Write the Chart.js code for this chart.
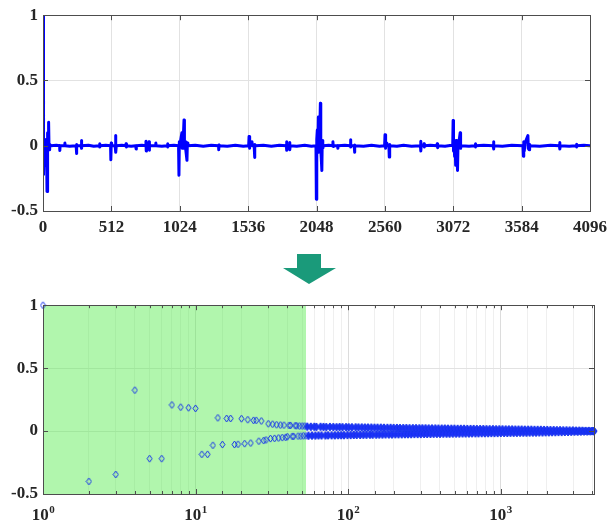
<!DOCTYPE html>
<html>
<head>
<meta charset="utf-8">
<script src="https://cdn.jsdelivr.net/npm/chart.js@4/dist/chart.umd.min.js"></script>
<style>
  html, body { margin: 0; padding: 0; background: #fff; }
  #page { position: relative; width: 613px; height: 522px; overflow: hidden; }
  #signalChart { position: absolute; left: 0; top: 0; }
  #rankChart { position: absolute; left: 0; top: 290px; }
  #arrow { position: absolute; left: 0; top: 240px; }
</style>
</head>
<body>
<div id="page">
  <canvas id="signalChart" width="613" height="240"></canvas>
  <svg id="arrow" width="613" height="50">
    <polygon points="297,14 321,14 321,28 336,28 309,44 283,28 297,28" fill="#1a9a7a"/>
  </svg>
  <canvas id="rankChart" width="613" height="232"></canvas>
</div>
<script>
// top panel: signal samples (index, value)
const sampleIndex = [0, 2, 4, 6, 8, 12, 16, 22, 26, 30, 33, 36, 39, 42, 45, 48, 52, 60,
  100, 124, 126, 128, 162, 164, 166, 200, 248, 250, 252, 254, 285, 287, 289, 291, 340, 380, 422, 424, 426, 428, 470,
  506, 508, 511, 514, 540, 543, 546, 549, 590, 620, 622, 624, 626, 660, 695, 697, 699, 740, 769, 771, 773, 775,
  792, 794, 796, 798, 843, 845, 847, 890, 930, 932, 934, 936, 980,
  1015, 1018, 1021, 1024, 1040, 1043, 1050, 1056, 1059, 1064, 1070, 1078, 1081, 1085, 1140, 1200, 1260,
  1314, 1316, 1318, 1320, 1380, 1440, 1500, 1540, 1543, 1546, 1549, 1565, 1568, 1581, 1584, 1587, 1590,
  1650, 1710, 1770, 1822, 1824, 1826, 1828, 1845, 1847, 1849, 1851, 1900, 1960, 2010,
  2044, 2047, 2050, 2054, 2058, 2062, 2066, 2074, 2077, 2080, 2084, 2088, 2091, 2095, 2100, 2140,
  2169, 2171, 2173, 2175, 2206, 2208, 2210, 2260, 2301, 2303, 2305, 2307, 2330, 2332, 2334, 2336,
  2400, 2460, 2520, 2558, 2561, 2564, 2567, 2575, 2578, 2590, 2593, 2596, 2599, 2650, 2700, 2760,
  2826, 2828, 2830, 2832, 2851, 2853, 2855, 2857, 2900, 2950, 2952, 2954, 2956, 3010, 3060,
  3068, 3071, 3074, 3078, 3082, 3086, 3090, 3094, 3100, 3104, 3108, 3114, 3120, 3124, 3127, 3131,
  3190, 3235, 3237, 3239, 3241, 3300, 3371, 3373, 3375, 3377, 3440, 3510,
  3594, 3597, 3600, 3604, 3610, 3620, 3631, 3634, 3640, 3644, 3648, 3720, 3800,
  3867, 3869, 3871, 3873, 3940, 3992, 3994, 3996, 3998, 4050, 4096];
const sampleValue = [1.0, -0.2, 0.03, -0.22, 0.0, -0.08, 0.02, -0.15, 0.05, -0.35, 0.0, 0.1, -0.03, 0.18, 0.0, -0.03, 0.01, 0.0,
  0.004, 0, -0.036, 0, 0, 0.02, 0, -0.004, 0, -0.06, 0.01, 0, 0, 0.04, -0.02, 0, 0.004, -0.004, 0, 0.015, -0.01, 0, 0.004,
  0, -0.107, 0.02, 0, 0, 0.078, -0.05, 0, 0.004, 0, 0.015, -0.01, 0, -0.004, 0, -0.025, 0, 0.004, 0, 0.035, -0.04, 0,
  0, 0.03, -0.035, 0, 0, 0.02, 0, -0.004, 0, 0.015, -0.01, 0, 0.004,
  0, -0.226, 0.03, 0, 0.1, -0.02, 0.05, 0.198, -0.02, 0.03, -0.04, -0.112, 0.02, 0, 0.004, -0.004, 0.004,
  0, -0.03, 0.005, 0, -0.004, 0.004, -0.004, 0, 0.07, -0.02, 0, 0.03, 0, 0, -0.09, 0.01, 0,
  0.004, -0.004, 0.004, 0, 0.03, -0.035, 0, 0, 0.025, -0.03, 0, -0.004, 0.004, -0.004,
  0, -0.41, 0.05, 0.12, -0.03, 0.22, -0.05, 0.18, 0.325, -0.02, -0.1, -0.19, 0.04, -0.02, 0, 0.004,
  0, 0.03, -0.005, 0, 0, -0.02, 0, 0.004, 0, 0.045, -0.01, 0, 0, -0.05, 0.005, 0,
  -0.004, 0.004, -0.004, 0, 0.084, -0.02, 0, 0.02, 0, 0, -0.087, 0.01, 0, -0.004, 0.004, -0.004,
  0, 0.035, -0.04, 0, 0, 0.015, -0.01, 0, 0.004, 0, 0.015, -0.015, 0, -0.004, 0.004,
  0, 0.193, -0.04, 0.03, -0.08, 0.02, -0.15, 0.04, -0.05, -0.19, 0.03, 0.02, 0.07, 0.1, -0.02, 0,
  -0.004, 0, 0.015, -0.01, 0, 0.004, 0, 0.03, -0.025, 0, -0.004, 0.004,
  0, -0.08, 0.03, -0.04, 0.02, 0.05, 0.078, -0.02, -0.03, 0.01, 0, -0.004, 0.004,
  0, 0.025, -0.025, 0, -0.004, 0, 0.012, -0.01, 0, 0.004, 0];
const signalTicks = [0, 512, 1024, 1536, 2048, 2560, 3072, 3584, 4096];

// bottom panel: values sorted by magnitude, rank 1..53 (shaded part)
const headValues = [1.0, -0.40, -0.345, 0.325, -0.219, -0.219, 0.208, 0.19, 0.185, 0.18,
  -0.185, -0.185, -0.113, 0.105, -0.107, 0.1, 0.1, -0.107, -0.105, 0.098,
  -0.1, 0.09, -0.095, 0.085, 0.085, -0.08, 0.08, -0.075, -0.07, 0.058,
  -0.06, 0.055, -0.058, 0.05, -0.055, 0.048, -0.052, 0.047, -0.05, -0.045,
  0.045, 0.045, -0.042, -0.042, 0.043, 0.042, -0.04, 0.04, -0.04, 0.04,
  -0.038, 0.04, -0.038];
// remaining ranks, read along the dense band
const tailRank = [54, 55, 57, 58, 60, 61, 62, 64, 66, 67, 69, 71, 72, 74, 76, 78, 80, 82, 84, 86,
  88, 90, 92, 94, 97, 99, 101, 104, 106, 109, 112, 114, 117, 120, 123, 126, 129, 132, 135, 139,
  142, 145, 149, 153, 156, 160, 164, 168, 172, 176, 181, 185, 190, 194, 199, 204, 209, 214, 219, 225,
  230, 236, 241, 247, 253, 259, 266, 272, 279, 286, 293, 300, 307, 315, 322, 330, 338, 347, 355, 364,
  373, 382, 391, 401, 411, 421, 431, 442, 452, 463, 475, 486, 498, 511, 523, 536, 549, 563, 576, 590,
  605, 620, 635, 650, 666, 683, 699, 716, 734, 752, 770, 789, 808, 828, 848, 869, 890, 912, 934, 957,
  980, 1004, 1029, 1054, 1080, 1106, 1133, 1161, 1189, 1218, 1248, 1278, 1310, 1342, 1374, 1408, 1442, 1478, 1514, 1551,
  1589, 1627, 1667, 1708, 1750, 1792, 1836, 1881, 1927, 1974, 2022, 2072, 2122, 2174, 2227, 2282, 2337, 2395, 2453, 2513,
  2574, 2637, 2702, 2768, 2835, 2905, 2976, 3048, 3123, 3199, 3277, 3357, 3439, 3523, 3610, 3698, 3788, 3881, 3975, 4072, 4096];
const tailValues = [0.035, -0.037, 0.034, -0.036, 0.034, -0.036, 0.033, -0.035, 0.034, -0.035, 0.033, -0.035, 0.032, -0.034, 0.033, -0.034, 0.032, -0.034, 0.031, -0.033,
  0.032, -0.033, 0.031, -0.033, 0.031, -0.032, 0.03, -0.032, 0.03, -0.031, 0.03, -0.031, 0.029, -0.031, 0.029, -0.03, 0.028, -0.03, 0.028, -0.029,
  0.028, -0.029, 0.027, -0.029, 0.027, -0.028, 0.027, -0.028, 0.026, -0.027, 0.026, -0.027, 0.026, -0.027, 0.025, -0.026, 0.025, -0.026, 0.024, -0.026,
  0.024, -0.025, 0.024, -0.025, 0.023, -0.025, 0.023, -0.024, 0.023, -0.024, 0.022, -0.024, 0.022, -0.023, 0.022, -0.023, 0.021, -0.023, 0.021, -0.022,
  0.021, -0.022, 0.02, -0.022, 0.02, -0.021, 0.02, -0.021, 0.019, -0.021, 0.019, -0.02, 0.019, -0.02, 0.018, -0.02, 0.018, -0.019, 0.018, -0.019,
  0.017, -0.019, 0.017, -0.018, 0.017, -0.018, 0.016, -0.018, 0.016, -0.017, 0.016, -0.017, 0.015, -0.017, 0.015, -0.016, 0.015, -0.016, 0.014, -0.016,
  0.014, -0.015, 0.014, -0.015, 0.013, -0.015, 0.013, -0.014, 0.013, -0.014, 0.012, -0.014, 0.012, -0.013, 0.012, -0.013, 0.011, -0.013, 0.011, -0.012,
  0.011, -0.012, 0.01, -0.012, 0.01, -0.011, 0.01, -0.011, 0.009, -0.01, 0.009, -0.01, 0.008, -0.009, 0.008, -0.009, 0.007, -0.008, 0.007, -0.008,
  0.006, -0.007, 0.006, -0.007, 0.005, -0.006, 0.005, -0.005, 0.004, -0.005, 0.004, -0.004, 0.003, -0.003, 0.002, -0.003, 0.002, -0.002, 0.001, -0.001, 0.0];
const shadeRange = [1, 53];
const decadeValues = [1, 10, 100, 1000];
const decadeExp = ["0", "1", "2", "3"];

const FONT = '"Liberation Serif", "Times New Roman", serif';
Chart.defaults.font.family = FONT;
Chart.defaults.font.size = 17;
Chart.defaults.font.weight = "bold";
Chart.defaults.color = "#262626";

const isDecade = v => {
  const e = Math.round(Math.log10(v));
  return Math.abs(v - Math.pow(10, e)) < 1e-9;
};

// MATLAB style box with inward ticks
const boxTicks = {
  id: "boxTicks",
  afterDatasetsDraw(chart, args, opts) {
    const { ctx, chartArea: a, scales } = chart;
    ctx.save();
    ctx.strokeStyle = "#4d4d4d";
    ctx.lineWidth = 1;
    ctx.beginPath();
    scales.x.ticks.forEach(t => {
      const px = Math.round(scales.x.getPixelForValue(t.value)) + 0.5;
      const len = opts.log && !isDecade(t.value) ? 3 : 5;
      ctx.moveTo(px, a.bottom); ctx.lineTo(px, a.bottom - len);
      ctx.moveTo(px, a.top); ctx.lineTo(px, a.top + len);
    });
    scales.y.ticks.forEach(t => {
      const py = Math.round(scales.y.getPixelForValue(t.value)) + 0.5;
      ctx.moveTo(a.left, py); ctx.lineTo(a.left + 5, py);
      ctx.moveTo(a.right, py); ctx.lineTo(a.right - 5, py);
    });
    ctx.stroke();
    ctx.strokeRect(Math.round(a.left) + 0.5, Math.round(a.top) + 0.5, Math.round(a.width), Math.round(a.height));
    ctx.restore();
  }
};

// 10^n labels with a raised exponent
const decadeText = {
  id: "decadeText",
  afterDraw(chart) {
    const { ctx, chartArea: a, scales: { x } } = chart;
    ctx.save();
    ctx.fillStyle = "#262626";
    ctx.textBaseline = "alphabetic";
    ctx.textAlign = "left";
    decadeValues.forEach((v, i) => {
      const px = x.getPixelForValue(v);
      ctx.font = "bold 17px " + FONT;
      const bw = ctx.measureText("10").width;
      ctx.font = "bold 11px " + FONT;
      const ew = ctx.measureText(decadeExp[i]).width;
      const left = px - (bw + ew) / 2;
      ctx.font = "bold 17px " + FONT;
      ctx.fillText("10", left, a.bottom + 26);
      ctx.font = "bold 11px " + FONT;
      ctx.fillText(decadeExp[i], left + bw + 0.5, a.bottom + 19);
    });
    ctx.restore();
  }
};

new Chart(document.getElementById("signalChart"), {
  type: "line",
  data: {
    datasets: [{
      data: sampleIndex.map((x, i) => ({ x, y: sampleValue[i] })),
      borderColor: "#0000ff",
      borderWidth: 3,
      borderJoinStyle: "round",
      borderCapStyle: "round",
      pointRadius: 0,
      tension: 0,
      fill: false
    }]
  },
  options: {
    responsive: false,
    animation: false,
    events: [],
    layout: { padding: { top: 14, right: 19, left: 0, bottom: 0 } },
    plugins: { legend: { display: false }, tooltip: { enabled: false }, boxTicks: {} },
    scales: {
      x: {
        type: "linear", min: 0, max: 4096,
        afterBuildTicks: s => { s.ticks = signalTicks.map(v => ({ value: v })); },
        ticks: { padding: 6, maxRotation: 0, autoSkip: false, callback: v => String(v) },
        grid: { color: "#e2e2e2", drawTicks: false },
        border: { display: false },
        afterFit: s => { s.height = 29; }
      },
      y: {
        min: -0.5, max: 1,
        ticks: { stepSize: 0.5, padding: 5, callback: v => String(v) },
        grid: { color: "#e2e2e2", drawTicks: false },
        border: { display: false },
        afterFit: s => { s.width = 43; }
      }
    }
  },
  plugins: [boxTicks]
});

// diamond markers: hollow for the leading ranks, filled for the dense tail
function makeDiamond(fill, w, h) {
  const c = document.createElement("canvas");
  c.width = w;
  c.height = h;
  const g = c.getContext("2d");
  g.beginPath();
  g.moveTo(w / 2, 1); g.lineTo(w - 1, h / 2); g.lineTo(w / 2, h - 1); g.lineTo(1, h / 2); g.closePath();
  if (fill) { g.fillStyle = fill; g.fill(); }
  g.strokeStyle = "rgb(20,50,235)";
  g.lineWidth = 1;
  g.stroke();
  return c;
}

new Chart(document.getElementById("rankChart"), {
  type: "line",
  data: {
    datasets: [
      {
        data: headValues.map((y, i) => ({ x: i + 1, y })),
        showLine: false,
        pointStyle: makeDiamond(null, 7, 9),
        pointRadius: 4,
        clip: false,
        order: 1
      },
      {
        data: tailRank.map((x, i) => ({ x, y: tailValues[i] })),
        showLine: false,
        pointStyle: makeDiamond("rgb(30,50,250)", 8, 10),
        pointRadius: 4,
        clip: false,
        order: 1
      },
      {
        data: shadeRange.map(x => ({ x, y: 1 })),
        borderColor: "rgba(40,170,40,0.7)",
        borderWidth: 1.5,
        backgroundColor: "rgba(90,235,80,0.47)",
        fill: "start",
        pointRadius: 0,
        order: 2
      }
    ]
  },
  options: {
    responsive: false,
    animation: false,
    events: [],
    layout: { padding: { top: 11, right: 19, left: 0, bottom: 0 } },
    plugins: { legend: { display: false }, tooltip: { enabled: false }, boxTicks: { log: true } },
    scales: {
      x: {
        type: "logarithmic", min: 1, max: 4096,
        ticks: { maxRotation: 0, autoSkip: false, callback: () => "" },
        grid: {
          color: c => c.tick && isDecade(c.tick.value) ? "#dcdcdc" : "#efefef",
          drawTicks: false
        },
        border: { display: false },
        afterFit: s => { s.height = 28; }
      },
      y: {
        min: -0.5, max: 1,
        ticks: { stepSize: 0.5, padding: 5, callback: v => String(v) },
        grid: { color: "#e2e2e2", drawTicks: false },
        border: { display: false },
        afterFit: s => { s.width = 43; }
      }
    }
  },
  plugins: [boxTicks, decadeText]
});
</script>
</body>
</html>
